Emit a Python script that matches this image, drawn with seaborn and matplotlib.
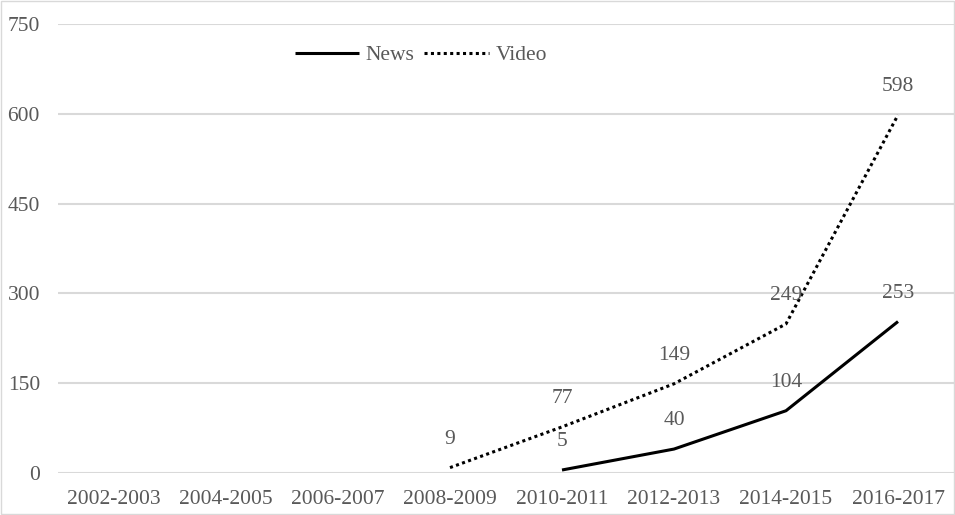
import numpy as np
import pandas as pd
import matplotlib
matplotlib.use("Agg")
import matplotlib.pyplot as plt
import seaborn as sns

periods = ["2002-2003", "2004-2005", "2006-2007", "2008-2009",
           "2010-2011", "2012-2013", "2014-2015", "2016-2017"]
news = [np.nan, np.nan, np.nan, np.nan, 5, 40, 104, 253]
video = [np.nan, np.nan, np.nan, 9, 77, 149, 249, 598]
yticks = [0, 150, 300, 450, 600, 750]

sns.set_theme(style="white")
plt.rcParams['font.family'] = ['Liberation Serif', 'DejaVu Serif']
grey = "#595959"
fs = 15.5

fig = plt.figure(figsize=(9.55, 5.15), dpi=100)
ax = fig.add_axes([58/955, 42/515, 896/955, 449/515])

x = np.arange(len(periods))
df = pd.DataFrame({"x": np.concatenate([x, x]),
                   "v": news + video,
                   "s": ["News"] * len(x) + ["Video"] * len(x)})
dn = df[df.s == "News"].dropna()
dv = df[df.s == "Video"].dropna()
sns.lineplot(data=dn, x="x", y="v", ax=ax, color="black", lw=2.2,
             label="News", solid_capstyle="butt")
sns.lineplot(data=dv, x="x", y="v", ax=ax, color="black", lw=2.2,
             linestyle=(0, (1, 1.1)), label="Video")

for xi, v in zip(x, news):
    if not np.isnan(v):
        ax.annotate(f"{int(v)}", (xi, v), xytext=(0, 20.5), textcoords="offset points",
                    ha="center", va="center", fontsize=fs, color=grey)
for xi, v in zip(x, video):
    if not np.isnan(v):
        ax.annotate(f"{int(v)}", (xi, v), xytext=(0, 20.5), textcoords="offset points",
                    ha="center", va="center", fontsize=fs, color=grey)

ax.set_xlim(-0.5, len(periods) - 0.5)
ax.set_ylim(0, 750)
ax.set_yticks(yticks)
ax.set_xticks(x)
ax.set_xticklabels(periods)
ax.set_xlabel("")
ax.set_ylabel("")
ax.tick_params(axis="both", length=0, labelsize=fs, labelcolor=grey)
ax.tick_params(axis="y", pad=13)
ax.tick_params(axis="x", pad=12)
ax.yaxis.grid(True, color="#d9d9d9", lw=1.5)
ax.set_axisbelow(True)
for s in ax.spines.values():
    s.set_visible(False)

leg = ax.legend(loc="center", bbox_to_anchor=(0.405, 0.93), ncol=2, frameon=False,
                fontsize=fs, handlelength=3.0, columnspacing=0.45, handletextpad=0.3)
for t in leg.get_texts():
    t.set_color(grey)

fig.patches.append(plt.Rectangle((0.001, 0.001), 0.998, 0.998, transform=fig.transFigure,
                                 fill=False, edgecolor="#d9d9d9", lw=1))
fig.savefig("out.png", dpi=100)
